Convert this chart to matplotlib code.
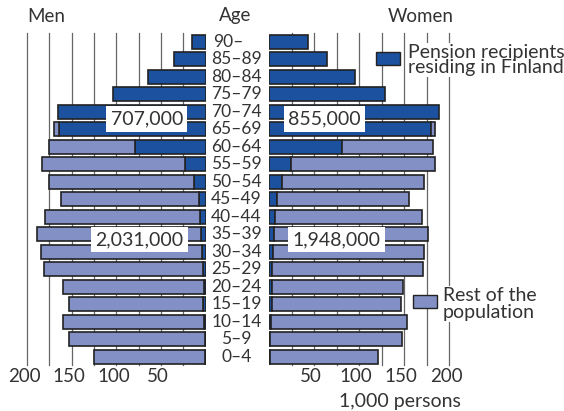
import numpy as np
import matplotlib.pyplot as plt
from matplotlib.patches import Rectangle
import matplotlib.transforms as mtransforms

plt.rcParams.update({
    'font.family': ['Lato', 'DejaVu Sans'],
    'font.size': 13,
    'text.color': '#333333',
    'xtick.color': '#333333',
})

###################################
# Data (1,000 persons), bottom to top
###################################
ages = ['0–4', '5–9', '10–14', '15–19', '20–24', '25–29', '30–34', '35–39',
        '40–44', '45–49', '50–54', '55–59', '60–64', '65–69', '70–74',
        '75–79', '80–84', '85–89', '90–']

men_pension = [0.5, 1.0, 2.0, 3.0, 2.0, 3.0, 4.0, 5.0, 6.0, 7.5, 12.7,
               23.0, 79.0, 164.0, 165.0, 104.0, 65.0, 35.0, 15.0]
men_rest = [125.0, 152.5, 158.0, 149.5, 157.5, 178.5, 180.5, 183.5, 174.0,
            155.0, 162.5, 160.5, 96.0, 5.5, 0, 0, 0, 0, 0]

women_pension = [0.5, 1.0, 2.0, 3.0, 2.5, 3.0, 3.7, 5.2, 6.7, 8.2, 13.8,
                 24.2, 81.3, 179.6, 188.5, 128.8, 95.7, 63.9, 42.7]
women_rest = [120.1, 146.4, 150.9, 143.2, 146.7, 168.4, 168.1, 171.1, 163.3,
              147.6, 158.7, 160.6, 101.2, 4.4, 0, 0, 0, 0, 0]

totals = {'men_pension': '707,000', 'women_pension': '855,000',
          'men_rest': '2,031,000', 'women_rest': '1,948,000'}

xticks = [50, 100, 150, 200]

DARK = '#1b519e'
LIGHT = '#8290c6'
EDGE = '#222222'
GRID = '#666666'

W, H = 564, 411
fig = plt.figure(figsize=(W / 100, H / 100), dpi=100)
axL = fig.add_axes([27 / W, 1 - 365 / H, 178.7 / W, 332 / H])
axR = fig.add_axes([269.3 / W, 1 - 365 / H, 179.7 / W, 332 / H])

y = np.arange(len(ages))


def panel(ax, pension, rest):
    pension = np.array(pension)
    rest = np.array(rest)
    ax.barh(y, pension, height=0.8, color=DARK, edgecolor=EDGE, lw=1.2, zorder=3)
    m = rest > 0
    ax.barh(y[m], rest[m], left=pension[m], height=0.8, color=LIGHT,
            edgecolor=EDGE, lw=1.2, zorder=3)
    for v in range(25, 201, 25):
        ax.axvline(v, color=GRID, lw=0.9, zorder=1, clip_on=False)
    ax.set_xlim(0, 200)
    ax.set_ylim(-0.47, 18.5)
    for s in ax.spines.values():
        s.set_visible(False)
    ax.set_yticks([])
    ax.set_xticks(xticks)
    ax.tick_params(axis='x', length=0, pad=2, labelsize=13.5)
    for lab in ax.get_xticklabels():
        lab.set_transform(lab.get_transform() + mtransforms.ScaledTranslation(-3 / 100, 0, fig.dpi_scale_trans))


panel(axL, men_pension, men_rest)
axL.set_xlim(200, 0)
panel(axR, women_pension, women_rest)

box = dict(boxstyle='square,pad=0.22', fc='white', ec='none')
axL.text(66, 13.6, totals['men_pension'], ha='center', va='center', fontsize=14, bbox=box, zorder=5)
axR.text(61, 13.6, totals['women_pension'], ha='center', va='center', fontsize=14, bbox=box, zorder=5)
axL.text(74, 6.7, totals['men_rest'], ha='center', va='center', fontsize=14, bbox=box, zorder=5)
axR.text(75, 6.7, totals['women_rest'], ha='center', va='center', fontsize=14, bbox=box, zorder=5)

# age labels between the two panels
tr = axL.get_yaxis_transform()
xc = (236.5 - 27) / 178.7
for i, a in enumerate(ages):
    if a == '90–':
        axL.text((213 - 27) / 178.7, i, a, transform=tr, ha='left', va='center',
                 fontsize=12.5, clip_on=False)
    else:
        axL.text(xc, i, a, transform=tr, ha='center', va='center',
                 fontsize=12.5, clip_on=False)

# headers and legend in pixel coordinates
ov = fig.add_axes([0, 0, 1, 1], zorder=10)
ov.set_xlim(0, W)
ov.set_ylim(H, 0)
ov.axis('off')
ov.patch.set_alpha(0)

ov.text(27, 16, 'Men', ha='left', va='center', fontsize=13.5)
ov.text(235, 16, 'Age', ha='center', va='center', fontsize=13.5)
ov.text(421, 16, 'Women', ha='center', va='center', fontsize=13.5)
ov.text(400, 401, '1,000 persons', ha='center', va='center', fontsize=14)

wbox = dict(boxstyle='square,pad=0.05', fc='white', ec='none')
ov.add_patch(Rectangle((376, 52), 24, 13, fc=DARK, ec=EDGE, lw=1.0))
ov.text(407.5, 60, 'Pension recipients\nresiding in Finland', ha='left', va='center',
        fontsize=14, linespacing=0.92, bbox=wbox)
ov.add_patch(Rectangle((413, 295), 24, 13, fc=LIGHT, ec=EDGE, lw=1.0))
ov.text(443, 304, 'Rest of the\npopulation', ha='left', va='center',
        fontsize=14, linespacing=0.98, bbox=wbox)

fig.savefig('out.png', dpi=100)
